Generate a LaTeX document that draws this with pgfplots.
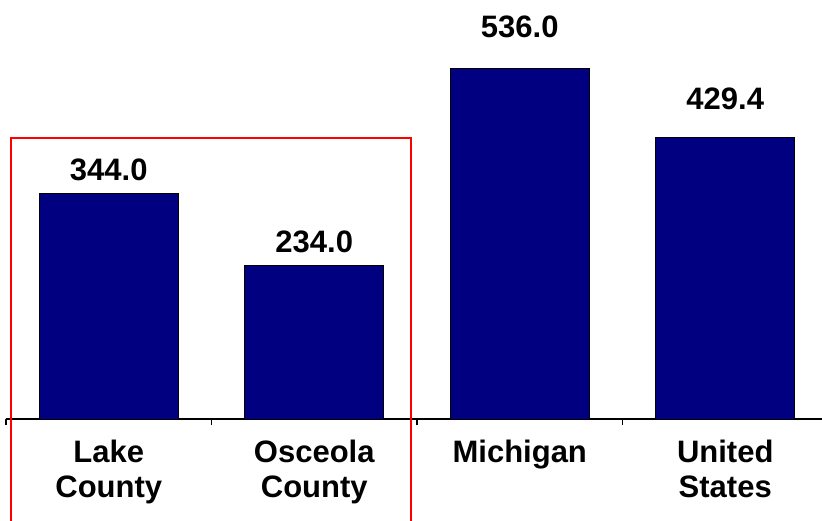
\documentclass[border=0pt]{standalone}
\usepackage{pgfplots}
\pgfplotsset{compat=1.18}
\usepackage{fontspec}
\setmainfont{Liberation Sans}
\definecolor{barnavy}{RGB}{0,0,128}
\newcommand{\chartfont}{\fontsize{31}{35}\selectfont\bfseries}
\begin{document}
\begin{tikzpicture}[x=1pt,y=1pt]
\clip (0,0) rectangle (822,520);
\begin{axis}[
at={(6pt,101pt)},
anchor=south west,
scale only axis,
width=822pt,
height=419pt,
xmin=-0.5, xmax=3.5,
ymin=0, ymax=640,
axis y line=none,
axis x line*=bottom,
x axis line style={line width=1.5pt},
xtick={0,1,2,3},
xticklabels={Lake\\County,Osceola\\County,Michigan,United\\States},
major tick length=0pt,
minor xtick={-0.5,0.5,1.5,2.5,3.5},
minor tick length=6pt,
tick align=outside,
minor tick style={black,line width=1.2pt},
x tick label style={font=\chartfont,align=center,anchor=north,yshift=-18pt},
ybar,
bar width=139pt,
bar shift=0pt,
/pgf/number format/assume math mode=true,
/pgf/number format/fixed,
/pgf/number format/fixed zerofill,
/pgf/number format/precision=1,
nodes near coords,
every node near coord/.append style={font=\chartfont,anchor=base,inner sep=0pt},
clip=false,
]
\addplot[fill=barnavy,draw=black,line width=1pt,
  every node near coord/.append style={yshift=13pt}] coordinates {
	(0,344.0)
	(1,234.0)
};
\addplot[fill=barnavy,draw=black,line width=1pt,
  every node near coord/.append style={yshift=31pt}] coordinates {
	(2,536.0)
};
\addplot[fill=barnavy,draw=black,line width=1pt,
  every node near coord/.append style={yshift=28pt}] coordinates {
	(3,429.4)
};
\end{axis}
% red box round the two counties
\draw[red,line width=2pt] (11,382) rectangle (410.5,-10);
\end{tikzpicture}
\end{document}
